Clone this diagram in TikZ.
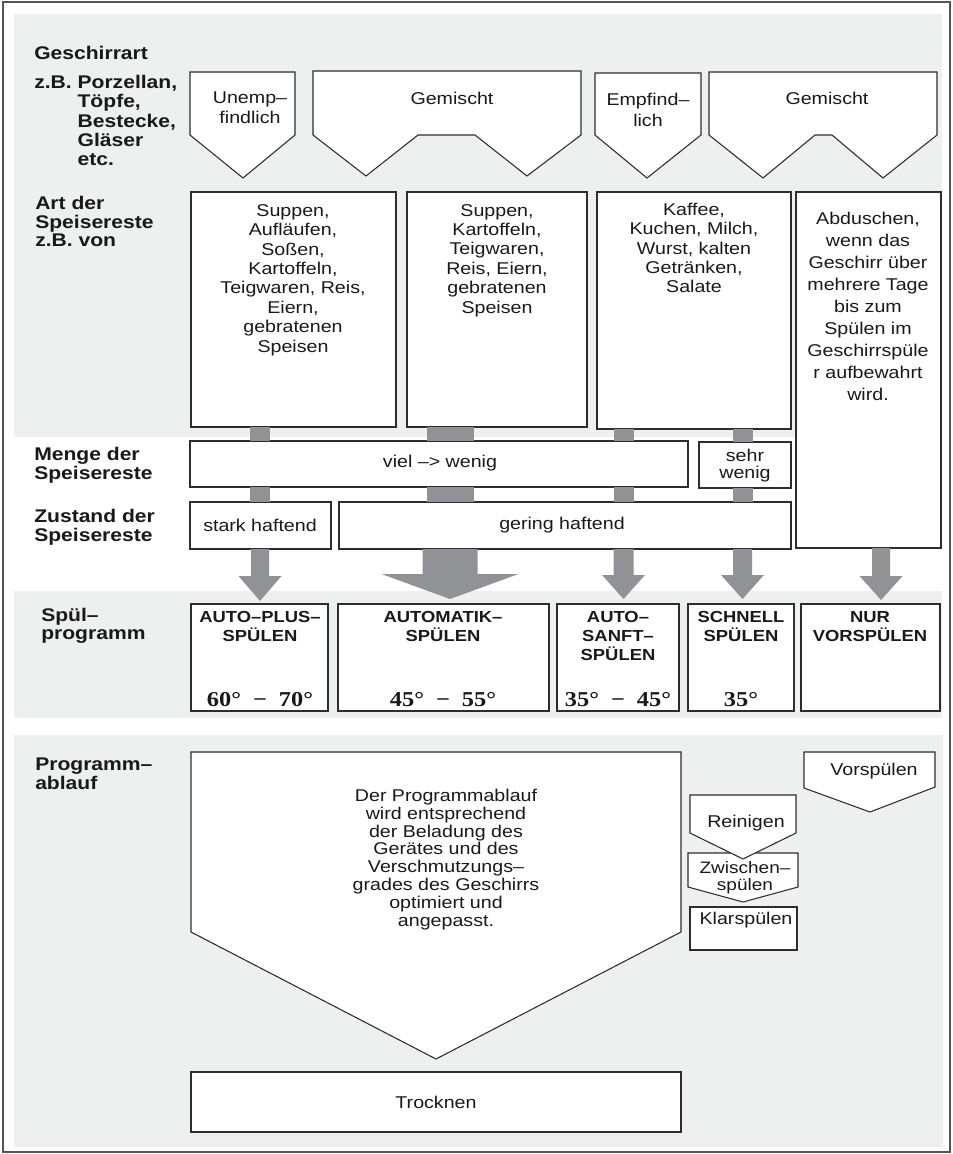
\documentclass[tikz,border=0pt]{standalone}
\usepackage{fontspec}
\setmainfont{Liberation Sans}[FakeStretch=1.15]
\newfontfamily\tempfont{Liberation Serif}[FakeStretch=1.15]
\usetikzlibrary{calc}
\definecolor{panelgray}{RGB}{238,239,239}
\definecolor{stemgray}{RGB}{145,146,150}
\definecolor{framegray}{RGB}{85,85,85}
\definecolor{ln}{RGB}{45,45,45}
\definecolor{txt}{RGB}{25,25,25}
\newcommand\rbox[5]{\node[boxst, minimum width={(#4-#2)*0.75pt}, minimum height={(#5-#3)*0.75pt}] (#1) at ({(#2+#4)/2},{(#3+#5)/2}) {};}
\newcommand\barrow[6]{\fill[stemgray] ($(#1 |- #2)+(-#4,0)$) -- ($(#3)+(-#4,-#6)$) -- ($(#3)+(-#5,-#6)$) -- (#3) -- ($(#3)+(#5,-#6)$) -- ($(#3)+(#4,-#6)$) -- ($(#1 |- #2)+(#4,0)$) -- cycle;}
\newcommand\stembar[4]{\fill[stemgray] ($(#1 |- #2)+(-#4,0)$) rectangle ($(#1 |- #3)+(#4,0)$);}
\begin{document}
\begin{tikzpicture}[x=0.75pt,y=-0.75pt,
  lbl/.style={anchor=west, align=left, inner sep=0, text=txt, font=\bfseries\fontsize{13.75}{14.4}\selectfont},
  txtn/.style={inner sep=0, align=center, text=txt, font=\fontsize{12.8}{14.55}\selectfont},
  ptxt/.style={inner sep=0, align=center, text=txt, font=\bfseries\fontsize{12}{14.25}\selectfont},
  ttxt/.style={inner sep=0, text=txt, font=\tempfont\bfseries\fontsize{15.9}{18}\selectfont},
  boxst/.style={draw=ln, fill=white, line width=0.8pt, inner sep=0, outer sep=0},
  shp/.style={draw=ln, fill=white, line width=0.8pt, line join=miter}]
\useasboundingbox (0,0) rectangle (953,1154);
\fill[white] (0,0) rectangle (953,1154);
\draw[framegray, line width=1.1pt] (3,2) rectangle (950,1152);
\fill[panelgray] (14,14) rectangle (942,437);
\fill[panelgray] (14,591) rectangle (942,718);
\fill[panelgray] (14,735) rectangle (943,1147);

% ---------- left labels
\node[lbl] (lgesch) at (34,53) {Geschirrart};
\node[lbl] (lporz) at (34,120.5) {z.B. Porzellan,\\\phantom{z.B. }Töpfe,\\\phantom{z.B. }Bestecke,\\\phantom{z.B. }Gläser\\\phantom{z.B. }etc.};
\node[lbl, font=\bfseries\fontsize{13.75}{13.9}\selectfont] (lart) at (35,221.5) {Art der\\Speisereste\\z.B. von};
\node[lbl, font=\bfseries\fontsize{13.75}{14.25}\selectfont] (lmenge) at (34,465) {Menge der\\Speisereste};
\node[lbl, font=\bfseries\fontsize{13.75}{14.25}\selectfont] (lzust) at (34,527) {Zustand der\\Speisereste};
\node[lbl, font=\bfseries\fontsize{13.75}{13.9}\selectfont] (lspuel) at (41,626) {Spül–\\programm};
\node[lbl, font=\bfseries\fontsize{13.75}{13.9}\selectfont] (lprog) at (35,774) {Programm–\\ablauf};

% ---------- Geschirrart pentagons
\draw[shp] (190,72) -- (295,72) -- (295,135) -- (243,178) -- (190,135) -- cycle;
\node[txtn, font=\fontsize{12.8}{15}\selectfont] (gunemp) at (250,108) {Unemp–\\findlich};
\draw[shp] (313,71) -- (581,71) -- (581,135) -- (527,176) -- (475,135) -- (418,135) -- (366,176) -- (313,135) -- cycle;
\node[txtn] (ggem1) at (452,98) {Gemischt};
\draw[shp] (595,73) -- (701,73) -- (701,135) -- (647,178) -- (595,135) -- cycle;
\node[txtn, font=\fontsize{12.8}{15.75}\selectfont] (gempf) at (648,110) {Empfind–\\lich};
\draw[shp] (709,72) -- (937,72) -- (937,135) -- (883,178) -- (832,135) -- (815,135) -- (763,178) -- (709,135) -- cycle;
\node[txtn] (ggem2) at (827,98) {Gemischt};

% ---------- Speisereste boxes
\rbox{b1}{191}{192}{396}{427}
\rbox{b2}{407}{192}{587}{427}
\rbox{b3}{597}{192}{791}{429}
\rbox{b4}{796}{192}{941}{548}
\node[txtn] (tb1) at (293,280) {Suppen,\\Aufläufen,\\Soßen,\\Kartoffeln,\\Teigwaren, Reis,\\Eiern,\\gebratenen\\Speisen};
\node[txtn] (tb2) at (497,260.5) {Suppen,\\Kartoffeln,\\Teigwaren,\\Reis, Eiern,\\gebratenen\\Speisen};
\node[txtn] (tb3) at (694,248) {Kaffee,\\Kuchen, Milch,\\Wurst, kalten\\Getränken,\\Salate};
\node[txtn, font=\fontsize{12.8}{16.5}\selectfont] (tb4) at (868,306) {Abduschen,\\wenn das\\Geschirr über\\mehrere Tage\\bis zum\\Spülen im\\Geschirrspüle\\r aufbewahrt\\wird.};

% ---------- Menge / Zustand
\rbox{m1}{190}{441}{688}{487}
\rbox{m2}{699}{442}{791}{488}
\rbox{z1}{190}{502}{331}{549}
\rbox{z2}{339}{502}{791}{549}
\node[txtn] (tm1) at (440,463) {viel –> wenig};
\node[txtn, font=\fontsize{12.8}{13}\selectfont] (tm2) at (745,465.5) {sehr\\wenig};
\node[txtn] (tz1) at (260,525) {stark haftend};
\node[txtn] (tz2) at (562,525) {gering haftend};

% ---------- Spülprogramm boxes
\rbox{p1}{191}{604}{328}{711}
\rbox{p2}{338}{604}{549}{711}
\rbox{p3}{557}{604}{679}{711}
\rbox{p4}{688}{604}{794}{711}
\rbox{p5}{801}{604}{940}{711}
\node[ptxt] (tp1) at (260,626.5) {AUTO–PLUS–\\SPÜLEN};
\node[ptxt] (tp2) at (443,626.5) {AUTOMATIK–\\SPÜLEN};
\node[ptxt] (tp3) at (618,636) {AUTO–\\SANFT–\\SPÜLEN};
\node[ptxt] (tp4) at (741,626.5) {SCHNELL\\SPÜLEN};
\node[ptxt] (tp5) at (870,626.5) {NUR\\VORSPÜLEN};
\node[ttxt] (tt1) at (260,700) {60°\hspace{9pt}−\hspace{9pt}70°};
\node[ttxt] (tt2) at (443,700) {45°\hspace{9pt}−\hspace{9pt}55°};
\node[ttxt] (tt3) at (618,700) {35°\hspace{9pt}−\hspace{9pt}45°};
\node[ttxt] (tt4) at (741,700) {35°};

% ---------- columns, stems and block arrows
\coordinate (k1) at (260,0);
\coordinate (k2) at (450,0);
\coordinate (k3) at (623.5,0);
\coordinate (k4) at (742.5,0);
\coordinate (k5) at (881,0);
\stembar{k1}{b1.south}{m1.north}{10}
\stembar{k2}{b2.south}{m1.north}{23.5}
\stembar{k3}{b3.south}{m1.north}{10}
\stembar{k4}{b3.south}{m2.north}{10}
\stembar{k1}{m1.south}{z1.north}{10}
\stembar{k2}{m1.south}{z2.north}{23.5}
\stembar{k3}{m1.south}{z2.north}{10}
\stembar{k4}{m2.south}{z2.north}{10}
\coordinate (tip1) at ($(k1 |- p1.north)+(0,-3)$);
\coordinate (tip2) at ($(k2 |- p2.north)+(0,-5)$);
\coordinate (tip3) at ($(k3 |- p3.north)+(0,-5)$);
\coordinate (tip4) at ($(k4 |- p4.north)+(0,-5)$);
\coordinate (tip5) at ($(k5 |- p5.north)+(0,-4)$);
\barrow{k1}{z1.south}{tip1}{9}{21.5}{25}
\barrow{k2}{z2.south}{tip2}{27.5}{68.5}{25}
\barrow{k3}{z2.south}{tip3}{10}{21.5}{24}
\barrow{k4}{z2.south}{tip4}{9.5}{21.5}{24}
\barrow{k5}{b4.south}{tip5}{9}{21.5}{24}

% ---------- Programmablauf
\draw[shp] (191,752) -- (681,752) -- (681,932) -- (436,1059) -- (191,932) -- cycle;
\node[txtn, font=\fontsize{12.8}{13.4}\selectfont] (tbig) at (446,859.5) {Der Programmablauf\\wird entsprechend\\der Beladung des\\Gerätes und des\\Verschmutzungs–\\grades des Geschirrs\\optimiert und\\angepasst.};
\rbox{tr}{191}{1072}{681}{1132}
\node[txtn] (ttr) at (436,1102) {Trocknen};
\draw[shp] (804,752) -- (935,752) -- (935,787) -- (870,812) -- (804,788) -- cycle;
\node[txtn] (tvor) at (874,771) {Vorspülen};
\draw[shp] (688,853) -- (798,853) -- (798,887) -- (743,902) -- (688,887) -- cycle;
\node[txtn, font=\fontsize{12.4}{12.8}\selectfont] (tzw) at (745,878) {Zwischen–\\spülen};
\draw[shp] (690,795) -- (796,795) -- (796,833) -- (743,859) -- (690,833) -- cycle;
\node[txtn] (trein) at (746,823) {Reinigen};
\rbox{kl}{690}{907}{797}{950}
\node[txtn] (tkl) at (746,920) {Klarspülen};
\end{tikzpicture}
\end{document}
